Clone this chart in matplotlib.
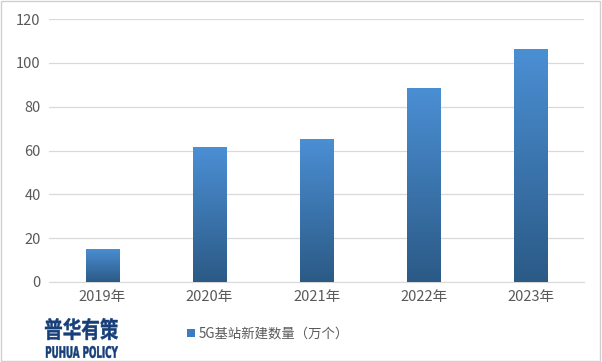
import matplotlib.pyplot as plt
import numpy as np
from matplotlib.colors import LinearSegmentedColormap
from matplotlib.textpath import TextPath
from matplotlib.patches import PathPatch
from matplotlib.font_manager import FontProperties
from matplotlib.transforms import Affine2D

plt.rcParams['font.family'] = ['Noto Sans CJK SC', 'DejaVu Sans']

years = ["2019年", "2020年", "2021年", "2022年", "2023年"]
stations = [15.2, 61.5, 65.3, 88.7, 106.5]
label = "5G基站新建数量（万个）"

W, H = 602, 362
fig = plt.figure(figsize=(W / 100, H / 100), dpi=100)
ax = fig.add_axes([0.0814, 0.221, 0.889, 0.7265])

x = np.arange(len(years))
bars = ax.bar(x, stations, width=0.31, color="#3f7cbf", label=label, zorder=2)

# gradient fill: lighter at top, dark at bottom
cmap = LinearSegmentedColormap.from_list("bluegrad", ["#2b5a86", "#4b8fd4"])
grad = np.linspace(0, 1, 256).reshape(-1, 1)
for b in bars:
    x0, w, h = b.get_x(), b.get_width(), b.get_height()
    im = ax.imshow(grad, cmap=cmap, origin="lower", aspect="auto",
                   extent=[x0, x0 + w, 0, h], zorder=3)
    im.set_clip_path(b)

ax.set_xlim(-0.5, 4.5)
ax.set_ylim(0, 120)
ax.set_yticks(range(0, 121, 20))
ax.set_xticks(x)
ax.set_xticklabels(years)
ax.grid(axis="y", color="#d9d9d9", linewidth=0.9, zorder=0)
for s in ["top", "right", "left"]:
    ax.spines[s].set_visible(False)
ax.spines["bottom"].set_color("#d9d9d9")
ax.tick_params(axis="both", length=0, colors="#595959", labelsize=10.5, pad=6)

leg = fig.legend(handles=[bars], labels=[label], loc="center left",
                 bbox_to_anchor=(0.29, 0.078), frameon=False, fontsize=9.6,
                 handlelength=0.6, handleheight=0.6, handletextpad=0.3)
for t in leg.get_texts():
    t.set_color("#595959")


# logo: text squeezed into a pixel box (left, top, right, bottom)
def boxed_text(s, box, family, weight, color):
    tp = TextPath((0, 0), s, size=10, prop=FontProperties(family=family, weight=weight))
    bb = tp.get_extents()
    l, t, r, btm = box
    sx = (r - l) / bb.width
    sy = (btm - t) / bb.height
    tr = (Affine2D().translate(-bb.x0, -bb.y0).scale(sx, sy)
          .translate(l, H - btm).scale(1 / 100) + fig.dpi_scale_trans)
    fig.patches.append(PathPatch(tp, transform=tr, facecolor=color,
                                 edgecolor=color, linewidth=0.3))


boxed_text("普华有策", (45, 318, 118, 340), "Noto Sans CJK SC", "black", "#163e78")
boxed_text("PUHUA POLICY", (46, 346, 118, 358), "DejaVu Sans", "bold", "#163e78")

# outer border
fig.patches.append(plt.Rectangle((0.002, 0.003), 0.995, 0.993, transform=fig.transFigure,
                                 fill=False, edgecolor="#d0d0d0", linewidth=1))

fig.savefig("out.png", dpi=100)
